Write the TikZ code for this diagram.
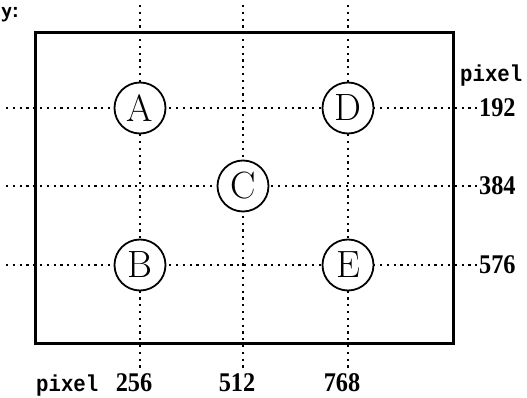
\documentclass[tikz,border=0pt]{standalone}
\usepackage{fontspec}
\newfontfamily\monofont{Liberation Mono}
\newfontfamily\numfont{Liberation Serif}
\begin{document}
\begin{tikzpicture}[x=1pt,y=-1pt,
  gridline/.style={line width=2.2pt, dash pattern=on 2.2pt off 4.6pt, black},
  frame/.style={line width=3pt},
  pt/.style={circle, draw, line width=1.8pt, fill=white, minimum size=51pt, inner sep=0pt, font=\fontsize{38}{38}\selectfont},
  num/.style={font=\numfont\bfseries\fontsize{27}{27}\selectfont, inner sep=0pt, xscale=0.9},
  lbl/.style={font=\monofont\bfseries\fontsize{23}{23}\selectfont, inner sep=0pt, xscale=0.9},
  ]
\useasboundingbox (0,0) rectangle (527,398);
% frame
\draw[frame] (35,33) rectangle (453,343);
% grid line ends
\coordinate (v1t) at (140,5);   \coordinate (v1b) at (140,372);
\coordinate (v2t) at (243,5);   \coordinate (v2b) at (243,372);
\coordinate (v3t) at (348,5);   \coordinate (v3b) at (348,372);
\coordinate (h1l) at (6,108);   \coordinate (h1r) at (478,108);
\coordinate (h2l) at (6,186);   \coordinate (h2r) at (478,186);
\coordinate (h3l) at (6,265);   \coordinate (h3r) at (478,265);
\draw[gridline] (v1t) -- (v1b);
\draw[gridline] (v2t) -- (v2b);
\draw[gridline] (v3t) -- (v3b);
\draw[gridline] (h1l) -- (h1r);
\draw[gridline] (h2l) -- (h2r);
\draw[gridline] (h3l) -- (h3r);
% points
\node[pt] (A) at (140,108) {A};
\node[pt] (D) at (348,108) {D};
\node[pt] (C) at (243,186) {C};
\node[pt] (B) at (140,265) {B};
\node[pt] (E) at (348,265) {E};
% right labels
\node[lbl, anchor=base west] (pr) at (460,82) {pixel};
\node[num, anchor=west] (n192) at (479,108) {192};
\node[num, anchor=west] (n384) at (479,186) {384};
\node[num, anchor=west] (n576) at (479,265) {576};
% bottom labels
\node[lbl, anchor=base west] (pb) at (36,391) {pixel};
\node[num, anchor=base] (n256) at (134,391) {256};
\node[num, anchor=base] (n512) at (237,391) {512};
\node[num, anchor=base] (n768) at (342,391) {768};
% top-left fragment
\node[font=\sffamily\bfseries\fontsize{22}{22}\selectfont, inner sep=0pt, anchor=base west] (yl) at (1,18) {y:};
\end{tikzpicture}
\end{document}
